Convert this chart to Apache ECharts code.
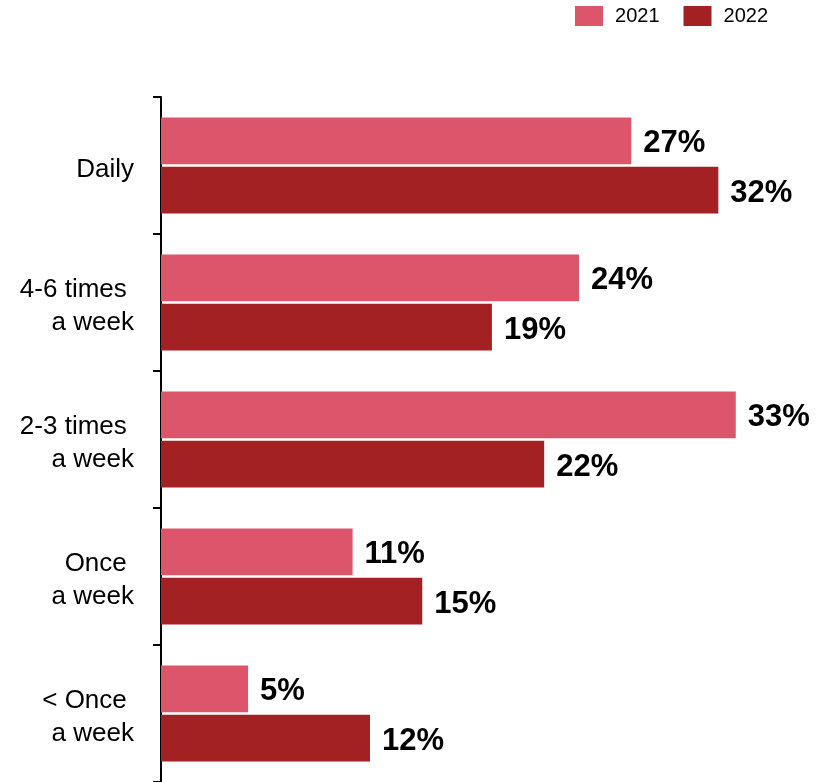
<!DOCTYPE html>
<html>
<head>
<meta charset="utf-8">
<style>
  html, body { margin: 0; padding: 0; background: #ffffff; }
  #chart { width: 830px; height: 782px; }
</style>
<script src="https://cdn.jsdelivr.net/npm/echarts@6/dist/echarts.min.js"></script>
</head>
<body>
<div id="chart"></div>
<script>
// Frequency categories, top to bottom
const categories = ['Daily', '4-6 times \na week', '2-3 times \na week', 'Once \na week', '< Once \na week'];
// Share of respondents (%) per year
const values2021 = [27, 24, 33, 11, 5];
const values2022 = [32, 19, 22, 15, 12];
const seriesNames = ['2021', '2022'];

const FONT = "'Liberation Sans', Arial, sans-serif";
const colors = ['#dc556b', '#a32023'];

const valueLabel = {
  show: true,
  position: 'right',
  distance: 12,
  offset: [0, 3],
  formatter: '{c}%',
  color: '#000',
  fontFamily: FONT,
  fontWeight: 'bold',
  fontSize: 31
};

const chart = echarts.init(document.getElementById('chart'), null, { renderer: 'canvas' });
chart.setOption({
  animation: false,
  backgroundColor: '#ffffff',
  color: colors,
  legend: {
    data: seriesNames,
    top: 1,
    right: 57,
    itemWidth: 28,
    itemHeight: 20,
    itemGap: 24,
    icon: 'rect',
    textStyle: { fontFamily: FONT, fontSize: 20, color: '#000', padding: [0, 0, 0, 7] }
  },
  grid: { left: 161, right: 42, top: 97, bottom: 0, containLabel: false },
  xAxis: {
    type: 'value',
    min: 0,
    max: 36,
    show: false
  },
  yAxis: {
    type: 'category',
    inverse: true,
    data: categories,
    axisLine: { show: true, lineStyle: { color: '#000', width: 2 } },
    axisTick: { show: true, length: 8, lineStyle: { color: '#000', width: 2 } },
    axisLabel: {
      margin: 27,
      color: '#000',
      fontFamily: FONT,
      fontSize: 26,
      lineHeight: 33,
      align: 'right',
      // a thin spacer line on top nudges each label slightly below the band centre
      formatter: function (v) {
        return '{s| }\n' + v.split('\n').map(function (t) { return '{t|' + t + '}'; }).join('\n');
      },
      rich: {
        s: { fontSize: 1, lineHeight: 8 },
        t: { fontFamily: FONT, fontSize: 26, lineHeight: 33, color: '#000', align: 'right' }
      }
    },
    splitLine: { show: false }
  },
  series: [
    {
      name: seriesNames[0],
      type: 'bar',
      data: values2021,
      barGap: '5%',
      barCategoryGap: '30%',
      label: valueLabel
    },
    {
      name: seriesNames[1],
      type: 'bar',
      data: values2022,
      barGap: '5%',
      barCategoryGap: '30%',
      label: valueLabel
    }
  ]
});
</script>
</body>
</html>
